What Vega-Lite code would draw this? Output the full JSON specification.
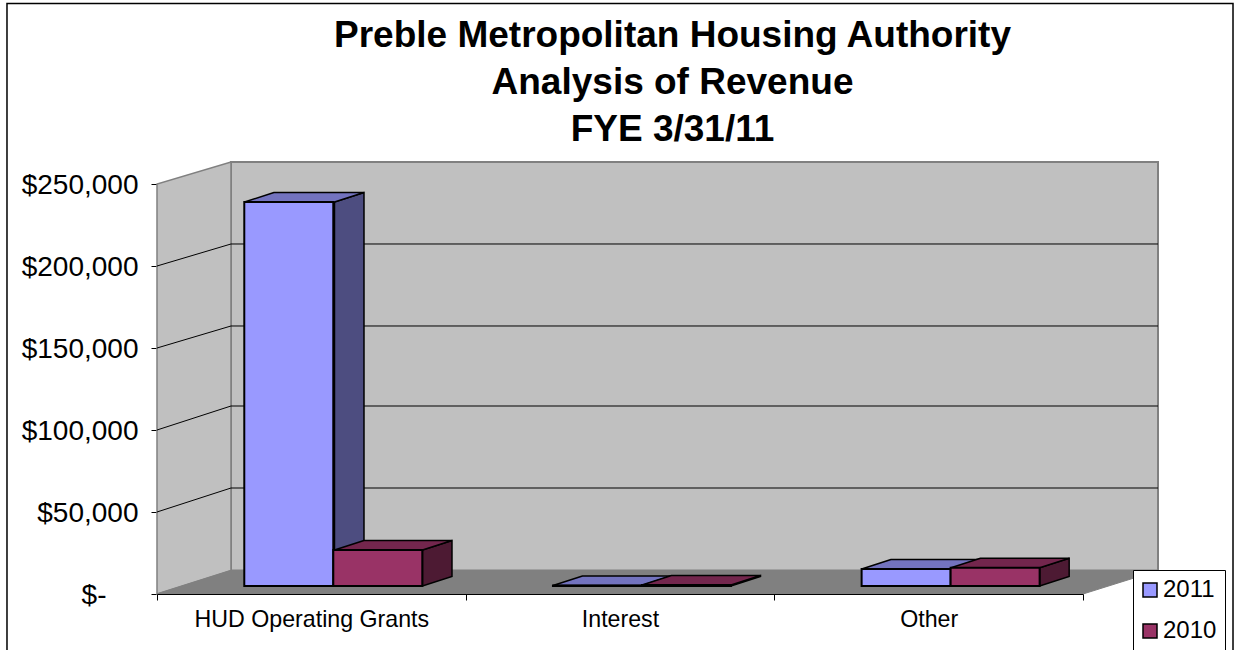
{
"$schema":"https://vega.github.io/schema/vega-lite/v6.json",
"width":1001,"height":432,
"autosize":{"type":"none"},
"padding":{"left":157,"top":162,"right":77,"bottom":56},
"background":"white",
"config":{"view":{"stroke":null},"font":"Liberation Sans"},
"title":{"text":["Preble Metropolitan Housing Authority","Analysis of Revenue","FYE 3/31/11"],"font":"Liberation Sans","fontSize":37,"fontWeight":"bold","lineHeight":47,"color":"black","anchor":"middle","frame":"group","dx":15,"offset":-146},
"datasets":{
"revenue":[
{"category":"HUD Operating Grants","year":"2011","value":234146},
{"category":"HUD Operating Grants","year":"2010","value":21951},
{"category":"Interest","year":"2011","value":300},
{"category":"Interest","year":"2010","value":600},
{"category":"Other","year":"2011","value":10366},
{"category":"Other","year":"2010","value":11159}],
"sides":[
{"bar":"H11","year":"2011","x":0.575,"y":239026,"y2":4878},{"bar":"H11","year":"2011","x":0.6706,"y":244817,"y2":10671},
{"bar":"H10","year":"2010","x":0.8601,"y":26829,"y2":4878},{"bar":"H10","year":"2010","x":0.9557,"y":32622,"y2":10671},
{"bar":"I11","year":"2011","x":1.5713,"y":5183,"y2":4878},{"bar":"I11","year":"2011","x":1.6668,"y":10976,"y2":10671},
{"bar":"I10","year":"2010","x":1.8596,"y":5488,"y2":4878},{"bar":"I10","year":"2010","x":1.9552,"y":11281,"y2":10671},
{"bar":"O11","year":"2011","x":2.5723,"y":15244,"y2":4878},{"bar":"O11","year":"2011","x":2.6678,"y":21037,"y2":10671},
{"bar":"O10","year":"2010","x":2.8597,"y":16037,"y2":4878},{"bar":"O10","year":"2010","x":2.9552,"y":21830,"y2":10671}],
"tops":[
{"bar":"H11","year":"2011","y":239026,"x":0.2835,"x2":0.575},{"bar":"H11","year":"2011","y":244817,"x":0.379,"x2":0.6706},
{"bar":"H10","year":"2010","y":26829,"x":0.575,"x2":0.8601},{"bar":"H10","year":"2010","y":32622,"x":0.6706,"x2":0.9557},
{"bar":"I11","year":"2011","y":5183,"x":1.2829,"x2":1.5713},{"bar":"I11","year":"2011","y":10976,"x":1.3785,"x2":1.6668},
{"bar":"I10","year":"2010","y":5488,"x":1.5713,"x2":1.8596},{"bar":"I10","year":"2010","y":11281,"x":1.6668,"x2":1.9552},
{"bar":"O11","year":"2011","y":15244,"x":2.283,"x2":2.5723},{"bar":"O11","year":"2011","y":21037,"x":2.378,"x2":2.6678},
{"bar":"O10","year":"2010","y":16037,"x":2.5723,"x2":2.8597},{"bar":"O10","year":"2010","y":21830,"x":2.6678,"x2":2.9552}],
"grid":[{"value":50000,"back":64634},{"value":100000,"back":114634},{"value":150000,"back":163415},{"value":200000,"back":213415}]
},
"layer":[
{"data":{"values":[{"x":0.2397,"x2":3.243,"y":14330,"y2":263415}]},
 "mark":{"type":"rect","fill":"#C0C0C0","stroke":"#808080","strokeWidth":2},
 "encoding":{
  "x":{"field":"x","type":"quantitative","scale":{"domain":[0,3.243],"nice":false,"zero":false},"axis":null},
  "x2":{"field":"x2"},
  "y":{"field":"y","type":"quantitative","scale":{"domain":[0,263415],"nice":false},"title":null,
   "axis":{"title":null,"values":[0,50000,100000,150000,200000,250000],"labelExpr":"datum.value==0?'':format(datum.value,'$,')","labelFont":"Liberation Sans","labelFontSize":28,"labelColor":"black","labelPadding":13,"labelOffset":1.5,"tickColor":"black","tickSize":6,"tickWidth":1,"domain":false,"grid":false,"labelOverlap":false,"labelBound":false}},
  "y2":{"field":"y2"}}},
{"data":{"values":[{"x":0,"y":0,"y2":250000},{"x":0.2397,"y":14330,"y2":263415}]},
 "mark":{"type":"area","fill":"#C0C0C0","stroke":"#808080","strokeWidth":1.5},
 "encoding":{
  "x":{"field":"x","type":"quantitative","scale":{"domain":[0,3.243],"nice":false,"zero":false},"axis":null},
  "y":{"field":"y","type":"quantitative","title":null},
  "y2":{"field":"y2"}}},
{"data":{"values":[{"y":0,"x":0,"x2":3},{"y":14330,"x":0.2397,"x2":3.243}]},
 "mark":{"type":"area","orient":"horizontal","fill":"#808080","stroke":"#808080","strokeWidth":1},
 "encoding":{
  "x":{"field":"x","type":"quantitative","scale":{"domain":[0,3.243],"nice":false,"zero":false},"axis":null},
  "x2":{"field":"x2"},
  "y":{"field":"y","type":"quantitative","title":null}}},
{"data":{"name":"grid"},
 "mark":{"type":"rule","color":"black","strokeWidth":1},
 "encoding":{
  "x":{"datum":0.2397,"type":"quantitative","scale":{"domain":[0,3.243],"nice":false,"zero":false},"axis":null},
  "x2":{"datum":3.243},
  "y":{"field":"back","type":"quantitative","title":null}}},
{"data":{"name":"grid"},
 "mark":{"type":"rule","color":"black","strokeWidth":1},
 "encoding":{
  "x":{"datum":0,"type":"quantitative","scale":{"domain":[0,3.243],"nice":false,"zero":false},"axis":null},
  "x2":{"datum":0.2397},
  "y":{"field":"value","type":"quantitative","title":null},
  "y2":{"field":"back"}}},
{"data":{"name":"sides"},
 "mark":{"type":"area","stroke":"black","strokeWidth":1.5},
 "encoding":{
  "x":{"field":"x","type":"quantitative","scale":{"domain":[0,3.243],"nice":false,"zero":false},"axis":null},
  "y":{"field":"y","type":"quantitative","title":null},
  "y2":{"field":"y2"},
  "detail":{"field":"bar"},
  "color":{"field":"year","type":"nominal","scale":{"domain":["2011","2010"],"range":["#4D4D80","#4D1A33"]},"legend":null}}},
{"data":{"name":"tops"},
 "mark":{"type":"area","orient":"horizontal","stroke":"black","strokeWidth":1.5},
 "encoding":{
  "x":{"field":"x","type":"quantitative","scale":{"domain":[0,3.243],"nice":false,"zero":false},"axis":null},
  "x2":{"field":"x2"},
  "y":{"field":"y","type":"quantitative","title":null},
  "detail":{"field":"bar"},
  "color":{"field":"year","type":"nominal","scale":{"domain":["2011","2010"],"range":["#7373BF","#73264D"]},"legend":null}}},
{"data":{"name":"revenue"},
 "mark":{"type":"bar","stroke":"black","strokeWidth":2,"yOffset":-8,"y2Offset":-8},
 "encoding":{
  "x":{"field":"category","type":"nominal","sort":null,"scale":{"range":[0,926],"paddingInner":0,"paddingOuter":0},"title":null,
   "axis":{"labelAngle":0,"labelFont":"Liberation Sans","labelFontSize":23.2,"labelColor":"black","labelPadding":8,"tickBand":"extent","tickColor":"black","tickSize":6,"domainColor":"black","domainWidth":1,"zindex":1,"labelLimit":400}},
  "xOffset":{"field":"year","type":"nominal","scale":{"domain":["2011","2010"],"paddingInner":0,"paddingOuter":0.734,"align":0.668}},
  "y":{"field":"value","type":"quantitative","title":null},
  "y2":{"datum":0},
  "color":{"field":"year","type":"nominal","scale":{"domain":["2011","2010"],"range":["#9999FF","#993366"]},
   "legend":{"title":null,"orient":"none","legendX":976,"legendY":408,"fillColor":"white","strokeColor":"black","padding":8,"symbolType":"square","symbolSize":196,"symbolStrokeColor":"black","symbolStrokeWidth":1.5,"symbolOffset":-3,"labelFont":"Liberation Sans","labelFontSize":24,"labelColor":"black","rowPadding":17,"labelOffset":1}}}},
{"data":{"values":[{"label":"$-","x":-0.204,"y":0}]},
 "mark":{"type":"text","font":"Liberation Sans","fontSize":28,"color":"black","align":"center","baseline":"middle","dy":1.5},
 "encoding":{
  "x":{"field":"x","type":"quantitative","scale":{"domain":[0,3.243],"nice":false,"zero":false},"axis":null},
  "y":{"field":"y","type":"quantitative","title":null},
  "text":{"field":"label"}}},
{"data":{"values":[{"x":-0.486,"x2":3.486,"y":360065,"y2":-40000}]},
 "mark":{"type":"rect","fill":null,"stroke":"black","strokeWidth":1.5},
 "encoding":{
  "x":{"field":"x","type":"quantitative","scale":{"domain":[0,3.243],"nice":false,"zero":false},"axis":null},
  "x2":{"field":"x2"},
  "y":{"field":"y","type":"quantitative","title":null},
  "y2":{"field":"y2"}}}
],
"resolve":{"scale":{"x":"independent","color":"independent"}}
}
